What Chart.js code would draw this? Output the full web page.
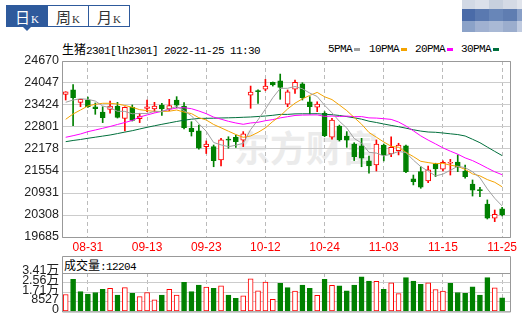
<!DOCTYPE html>
<html>
<head>
<meta charset="utf-8">
<script src="https://cdn.jsdelivr.net/npm/chart.js@4/dist/chart.umd.min.js"></script>
<style>
  body { margin:0; width:522px; height:326px; overflow:hidden; position:relative; background:#fff; font-family:"Liberation Sans", "Noto Sans CJK SC", sans-serif; }
  .abs { position:absolute; }
  #tabs { position:absolute; left:6px; top:5px; width:124px; height:22px; box-sizing:border-box; border:1px solid #2e5a9c; display:flex; }
  .tab { flex:1; display:flex; align-items:center; justify-content:center; color:#333; border-left:1px solid #2e5a9c; }
  .tab:first-child { border-left:none; }
  .tab.on { background:#2e5a9c; color:#fff; }
  .tab .cn { font:15px "Noto Sans CJK SC"; }
  .tab .k { font:11px "Liberation Serif"; margin-left:1px; }
  #arrow { position:absolute; left:23px; top:27px; width:0; height:0; border-left:4px solid transparent; border-right:4px solid transparent; border-top:4px solid #2e5a9c; }
  .mono { font-family:"Liberation Mono", monospace; font-size:11px; letter-spacing:-0.6px; }
  .cjk { font-family:"Noto Sans CJK SC"; font-size:12px; }
  .line { white-space:pre; line-height:14px; color:#000; }
  .sw { position:absolute; top:48px; width:6px; height:3px; }
  #wm { position:absolute; left:234px; top:128px; font:700 36px/36px "Noto Sans CJK SC"; color:#ebebeb; white-space:nowrap; }
  #mosaic div { position:absolute; }
  canvas { position:absolute; left:0; }
</style>
</head>
<body>
<div id="tabs">
  <div class="tab on"><span><span class="cn">日</span><span class="k">K</span></span></div>
  <div class="tab"><span><span class="cn">周</span><span class="k">K</span></span></div>
  <div class="tab"><span><span class="cn">月</span><span class="k">K</span></span></div>
</div>
<div id="arrow"></div>
<div id="mosaic"></div>

<div class="abs line" style="left:62px;top:42px"><span class="cjk">生猪</span><span class="mono">2301[lh2301] 2022-11-25 11:30</span></div>
<div id="legend"></div>

<div id="wm">东方财富</div>
<canvas id="kline" width="522" height="215" style="top:40px"></canvas>

<div class="abs line" style="left:64px;top:258px"><span class="cjk">成交量</span><span class="mono" id="volVal"></span></div>
<canvas id="vol" width="522" height="66" style="top:256px"></canvas>

<script>
// 日期
const dates = ['08-26','08-29','08-30','08-31','09-01','09-02','09-05','09-06','09-07','09-08',
  '09-09','09-13','09-14','09-15','09-16','09-19','09-20','09-21','09-22','09-23',
  '09-26','09-27','09-28','09-29','09-30','10-10','10-11','10-12','10-13','10-14',
  '10-17','10-18','10-19','10-20','10-21','10-24','10-25','10-26','10-27','10-28',
  '10-31','11-01','11-02','11-03','11-04','11-07','11-08','11-09','11-10','11-11',
  '11-14','11-15','11-16','11-17','11-18','11-21','11-22','11-23','11-24','11-25'];

// K线 开高低收
const openP = [23725,23850,23500,23565,23375,23225,23300,23390,23045,23355,
  23035,23330,23310,23425,23315,23565,23395,22765,22695,22245,
  22245,21865,22460,22510,22430,23700,23830,23870,24065,24110,
  23450,23875,24020,23510,23360,23190,22510,22830,22545,22320,
  22265,21840,21725,22290,22035,22130,22265,21330,21535,21270,
  21755,21605,21775,21810,21555,21185,21030,20620,20220,20480];
const highP = [23800,24005,23590,23650,23480,23375,23535,23500,23370,23425,
  23190,23565,23500,23470,23585,23660,23490,22950,22855,22405,
  22290,22480,22525,22575,22670,23960,23850,24150,24075,24300,
  23850,24130,24055,23660,23515,23235,23045,22855,22670,22355,
  22480,21980,22435,22320,22525,22340,22290,21440,21675,21695,
  21775,21840,21885,22010,21725,21300,21095,20735,20450,20525];
const lowP = [23565,22840,23375,23355,23160,22925,23190,23055,22690,22970,
  22925,23235,23225,23130,23260,23345,22745,22545,22170,22050,
  21675,21695,22200,22225,22245,23330,23470,23830,23960,23585,
  23375,23755,23565,23170,23235,22525,22455,22405,22225,21850,
  21675,21490,21555,21840,21960,22010,21505,21160,21065,21225,
  21395,21555,21440,21535,21350,20845,20825,20195,20120,20280];
const closeP = [23800,23630,23585,23375,23320,23065,23395,23075,23360,22985,
  23110,23375,23395,23310,23405,23420,22780,22670,22200,22320,
  21845,22435,22425,22385,22605,23790,23800,23960,23990,23925,
  23800,24065,23630,23375,23450,22555,23000,22435,22425,21960,
  21915,21695,22320,22010,22225,22290,21535,21250,21095,21585,
  21610,21800,21790,21660,21395,21010,20995,20215,20330,20310];

// 成交量
const volume = [15100,28500,17540,15350,16800,19730,20460,14600,21200,16080,
  13150,16800,10230,14600,19730,14600,25820,17540,23390,21680,
  20460,22650,14600,11690,13890,29000,18270,26070,10720,24850,
  21190,18030,23390,20460,14370,28500,23140,22650,18270,23390,
  30690,27040,26800,19730,25330,15830,29960,27040,24120,25330,
  19490,18030,24850,16800,16080,21920,14620,29960,20950,12204];

// 均线
const ma5 = [23500,23565,23600,23585,23535,23395,23347,23245,23243,23175,
  23183,23180,23245,23234,23319,23381,23262,23118,22894,22679,
  22362,22294,22243,22283,22339,22727,23002,23308,23630,23894,
  23897,23948,23883,23761,23665,23415,23203,22962,22772,22475,
  22345,22084,22062,21980,22033,22107,22076,21863,21679,21552,
  21416,21467,21575,21688,21651,21532,21362,21048,20782,20564];
const ma10 = [23019,23169,23282,23396,23444,23472,23472,23452,23410,23359,
  23291,23265,23245,23240,23248,23282,23223,23180,23064,22999,
  22872,22778,22682,22588,22509,22546,22648,22775,22957,23115,
  23311,23475,23597,23696,23781,23656,23577,23424,23265,23070,
  22880,22645,22512,22376,22254,22226,22082,21963,21829,21793,
  21762,21773,21719,21685,21600,21473,21416,21311,21235,21107];
const ma20 = [22509,22554,22603,22668,22716,22764,22815,22872,22928,22985,
  23084,23141,23197,23245,23297,23339,23347,23319,23254,23178,
  23081,23022,22962,22914,22877,22914,22934,22979,23010,23059,
  23093,23127,23138,23141,23144,23101,23112,23098,23110,23093,
  23095,23059,23053,23036,23016,22942,22829,22693,22549,22430,
  22322,22209,22116,22031,21926,21849,21747,21637,21532,21450];
const ma30 = [22385,22419,22447,22481,22512,22543,22574,22614,22656,22696,
  22744,22792,22835,22877,22917,22957,22993,23022,23042,23047,
  23050,23056,23061,23067,23076,23084,23098,23112,23132,23158,
  23158,23172,23175,23175,23178,23161,23149,23127,23095,23061,
  23022,22965,22928,22886,22846,22809,22767,22722,22685,22659,
  22651,22631,22608,22586,22546,22453,22356,22232,22110,21991];

// 刻度
const priceTicks = [19685, 20308, 20931, 21554, 22178, 22801, 23424, 24047, 24670];
const volTicks = [0, 8527, 17054, 25581, 34108];
const volTickLabels = ['0', '8527', '1.71万', '2.56万', '3.41万'];
const dateTicks = ['08-31','09-13','09-23','10-12','10-24','11-03','11-15','11-25'];

const maNames = ['5PMA', '10PMA', '20PMA', '30PMA'];
const maColors = ['#a0a0a0', '#f4a300', '#ff00ff', '#006f3c'];
const RED = '#ff0000';
const GREEN = '#008000';

// legenda e mosaico in alto a destra
const legendX = [328, 369, 415, 461];
const legend = document.getElementById('legend');
maNames.forEach((n, i) => {
  const t = document.createElement('div');
  t.className = 'abs line mono';
  t.style.left = legendX[i] + 'px';
  t.style.top = '42px';
  t.textContent = n;
  legend.appendChild(t);
  const s = document.createElement('div');
  s.className = 'sw';
  s.style.left = (legendX[i] + n.length * 6 + 2) + 'px';
  s.style.background = maColors[i];
  legend.appendChild(s);
});

const mosaicRows = [
  ['#d2d9e5', '#dbe0ea', '#c7d0de', '#d4dae5', '#e0e4ec'],
  ['#4a6ba8', '#5a79b0', '#6886b8', '#5f7db1', '#889fc7'],
  ['#8ba2c8', '#a0b1d1', '#a9b9d5', '#9badcd', '#c0cbe0']
];
const rowY = [0, 9, 21], rowH = [9, 12, 11];
const colX = [462, 475, 489, 503, 517], colW = [13, 14, 14, 14, 5];
const mosaic = document.getElementById('mosaic');
mosaicRows.forEach((row, r) => row.forEach((c, k) => {
  const d = document.createElement('div');
  d.style.cssText = `left:${colX[k]}px;top:${rowY[r]}px;width:${colW[k]}px;height:${rowH[r]}px;background:${c}`;
  mosaic.appendChild(d);
}));

document.getElementById('volVal').textContent = ':' + volume[volume.length - 1];

// cornice del grafico
const framePlugin = {
  id: 'frame',
  afterDatasetsDraw(chart, args, opts) {
    const { ctx, chartArea: a } = chart;
    const top = opts.top !== undefined ? opts.top : a.top;
    ctx.save();
    ctx.strokeStyle = '#999';
    ctx.lineWidth = 1;
    ctx.beginPath();
    ctx.rect(a.left + 0.5, top + 0.5, a.right - a.left - 1, a.bottom - top);
    if (opts.divider) {
      ctx.moveTo(a.left, a.top + 0.5);
      ctx.lineTo(a.right, a.top + 0.5);
    }
    ctx.stroke();
    ctx.restore();
  }
};

const xy = arr => arr.map((v, i) => ({ x: i, y: v }));
const isUp = i => closeP[i] >= openP[i];
const candleColor = dates.map((d, i) => isUp(i) ? RED : GREEN);
const bodyFill = dates.map((d, i) => isUp(i) ? '#ffffff' : GREEN);
const volUp = closeP.map((c, i) => i === 0 ? isUp(0) : c >= closeP[i - 1]);

Chart.defaults.font.family = '"Liberation Sans", "Noto Sans CJK SC", sans-serif';
Chart.defaults.animation = false;

const xMin = -0.5, xMax = 60.2;

function dateAxis(showLabels) {
  return {
    type: 'linear',
    min: xMin,
    max: xMax,
    offset: false,
    afterBuildTicks: s => { s.ticks = dateTicks.map(d => ({ value: dates.indexOf(d) })); },
    afterFit: s => { s.height = showLabels ? 18 : 0; },
    ticks: {
      display: showLabels,
      autoSkip: false,
      maxRotation: 0,
      minRotation: 0,
      padding: 3,
      color: '#ff0000',
      font: { size: 12 },
      callback: v => dates[v]
    },
    grid: { color: '#bbbbbb', drawTicks: false, offset: false },
    border: { display: false, dash: [4, 3] }
  };
}

const maSets = [ma5, ma10, ma20, ma30].map((arr, k) => ({
  type: 'line',
  label: maNames[k],
  data: xy(arr),
  borderColor: maColors[k],
  borderWidth: 1,
  pointRadius: 0,
  tension: 0,
  order: 0
}));

new Chart(document.getElementById('kline'), {
  type: 'bar',
  data: {
    datasets: [
      ...maSets,
      {
        label: 'body',
        data: dates.map((d, i) => ({ x: i, y: [openP[i], closeP[i]] })),
        backgroundColor: bodyFill,
        borderColor: candleColor,
        borderWidth: 1,
        borderSkipped: false,
        barThickness: 5,
        minBarLength: 1,
        grouped: false,
        order: 1
      },
      {
        label: 'wick',
        data: dates.map((d, i) => ({ x: i, y: [lowP[i], highP[i]] })),
        backgroundColor: candleColor,
        borderWidth: 0,
        barThickness: 1,
        grouped: false,
        order: 2
      }
    ]
  },
  options: {
    responsive: false,
    devicePixelRatio: 1,
    layout: { padding: { top: 21, right: 11, left: 0, bottom: 0 } },
    plugins: { legend: { display: false }, tooltip: { enabled: false }, frame: {} },
    scales: {
      x: dateAxis(true),
      y: {
        min: priceTicks[0],
        max: priceTicks[priceTicks.length - 1],
        afterBuildTicks: s => { s.ticks = priceTicks.map(v => ({ value: v })); },
        afterFit: s => { s.width = 62; },
        ticks: { color: '#222', font: { size: 12.5 }, padding: 3, autoSkip: false, callback: v => String(v) },
        grid: { color: '#cccccc', drawTicks: false },
        border: { display: false }
      }
    }
  },
  plugins: [framePlugin]
});

new Chart(document.getElementById('vol'), {
  type: 'bar',
  data: {
    datasets: [{
      label: '成交量',
      data: xy(volume),
      backgroundColor: volUp.map(u => u ? '#ffffff' : GREEN),
      borderColor: volUp.map(u => u ? RED : GREEN),
      borderWidth: 1,
      borderSkipped: false,
      barThickness: 5
    }]
  },
  options: {
    responsive: false,
    devicePixelRatio: 1,
    layout: { padding: { top: 17, right: 11, left: 0, bottom: 2 } },
    plugins: { legend: { display: false }, tooltip: { enabled: false }, frame: { top: 0, divider: true } },
    scales: {
      x: dateAxis(false),
      y: {
        min: 0,
        max: volTicks[volTicks.length - 1],
        afterBuildTicks: s => { s.ticks = volTicks.map(v => ({ value: v })); },
        afterFit: s => { s.width = 62; },
        ticks: { color: '#222', font: { size: 12.5 }, padding: 3, labelOffset: -2, autoSkip: false, callback: v => volTickLabels[volTicks.indexOf(v)] },
        grid: { color: '#cccccc', drawTicks: false },
        border: { display: false }
      }
    }
  },
  plugins: [framePlugin]
});
</script>
</body>
</html>
